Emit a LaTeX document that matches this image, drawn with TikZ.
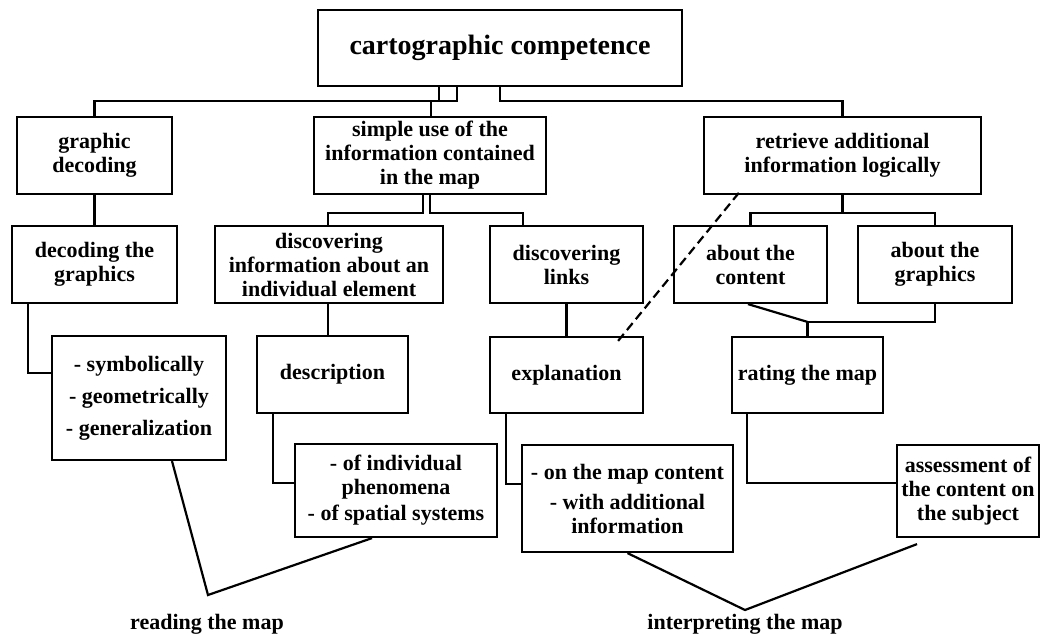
\documentclass[tikz,border=0pt]{standalone}
\usepackage{fontspec}
\setmainfont{Liberation Serif}

\begin{document}
\begin{tikzpicture}[x=1pt, y=-1pt,
    box/.style={draw, line width=2.2pt, align=center, inner sep=0pt,
        font=\bfseries\fontsize{22}{24}\selectfont},
    link/.style={line width=2.2pt},
    lbl/.style={anchor=base, font=\bfseries\fontsize{22}{24}\selectfont}]
    \useasboundingbox (0,0) rectangle (1041,633);

    % top level
    \node[box, minimum width=364pt, minimum height=76pt,
        font=\bfseries\fontsize{28}{30}\selectfont] (top) at (500,48) {cartographic competence};

    % second level
    \node[box, minimum width=155pt, minimum height=77pt] (gd) at (94.5,155.5) {graphic\\decoding};
    \node[box, minimum width=232pt, minimum height=77pt] (simple) at (430,155.5) {simple use of the\\information contained\\in the map};
    \node[box, minimum width=277pt, minimum height=77pt] (retr) at (842.5,155.5) {retrieve additional\\information logically};

    % third level
    \node[box, minimum width=165pt, minimum height=77pt] (decgr) at (94.5,264.5) {decoding the\\graphics};
    \node[box, minimum width=228pt, minimum height=77pt] (discinfo) at (329,264.5) {discovering\\information about an\\individual element};
    \node[box, minimum width=153pt, minimum height=77pt] (disclinks) at (566.5,264.5) {discovering\\links};
    \node[box, minimum width=153pt, minimum height=77pt] (content) at (750.5,264.5) {about the\\content};
    \node[box, minimum width=154pt, minimum height=77pt] (graphics) at (935,264.5) {about the\\graphics};

    % fourth level
    \node[box, minimum width=174pt, minimum height=124pt] (symb) at (139,398) {- symbolically\\[8pt]- geometrically\\[8pt]- generalization};
    \node[box, minimum width=151pt, minimum height=77pt] (descr) at (332.5,374.5) {description};
    \node[box, minimum width=153pt, minimum height=76pt] (expl) at (566.5,375) {explanation};
    \node[box, minimum width=151pt, minimum height=76pt] (rating) at (807.5,375) {rating the map};

    % fifth level
    \node[box, minimum width=202pt, minimum height=93pt] (indiv) at (396,490.5) {- of individual\\phenomena\\[2pt]- of spatial systems};
    \node[box, minimum width=211pt, minimum height=107pt] (onmap) at (627.5,498.5) {- on the map content\\[6pt]- with additional\\information};
    \node[box, minimum width=142pt, minimum height=92pt] (assess) at (968,491) {assessment of\\the content on\\the subject};

    % bottom labels
    \node[lbl] (read) at (207,629) {reading the map};
    \node[lbl] (interp) at (745,629) {interpreting the map};

    % connectors from the top
    \coordinate (busL) at (457,101);
    \coordinate (busR) at (500,101);
    \draw[link] (top.south -| busL) -- (busL) -| (gd.north);
    \draw[link] ([xshift=-18pt]top.south -| busL) -- ([xshift=-18pt]busL);
    \draw[link] ([xshift=1pt]simple.north) -- ([xshift=1pt]simple.north |- busL);
    \draw[link] (top.south -| busR) -- (busR) -| (retr.north);

    % second to third level
    \draw[link] (gd) -- (decgr);
    \draw[link] ([xshift=-7pt]simple.south) -- ++(0,18) -| ([xshift=-1pt]discinfo.north);
    \draw[link] (simple.south) -- ++(0,18) -| ([xshift=-43.5pt]disclinks.north);
    \draw[link] (retr.south) -- ++(0,18) -| (content.north);
    \draw[link] (retr.south) ++(0,18) -| (graphics.north);

    % third to fourth level
    \draw[link] ([xshift=-66.5pt]decgr.south) |- ([yshift=25pt]symb.west);
    \draw[link] ([xshift=-1pt]discinfo.south) -- ([xshift=-1pt]discinfo.south |- descr.north);
    \draw[link] (disclinks) -- (expl);
    \draw[link] (graphics.south) |- ([yshift=14pt]rating.north) -- (rating.north);
    \draw[link] ([xshift=-2.5pt]content.south) -- ([yshift=14pt]rating.north);
    \draw[link, dash pattern=on 9pt off 5pt] ([xshift=-26pt,yshift=-5pt]expl.north east) -- ([xshift=39pt,yshift=6pt]retr.south west);

    % fourth to fifth level
    \draw[link] ([xshift=-59.5pt]descr.south) |- ([yshift=7.5pt]indiv.west);
    \draw[link] ([xshift=-60.5pt]expl.south) |- ([yshift=14.5pt]onmap.west);
    \draw[link] ([xshift=-60.5pt]rating.south) |- ([yshift=8pt]assess.west);

    % reading and interpreting
    \coordinate (rv) at (208,595);
    \coordinate (iv) at (745,610);
    \draw[link] ([xshift=33pt]symb.south) -- (rv) -- ([xshift=-24pt]indiv.south);
    \draw[link] (onmap.south) -- (iv) -- ([xshift=-51pt,yshift=-6pt]assess.south);
\end{tikzpicture}
\end{document}
